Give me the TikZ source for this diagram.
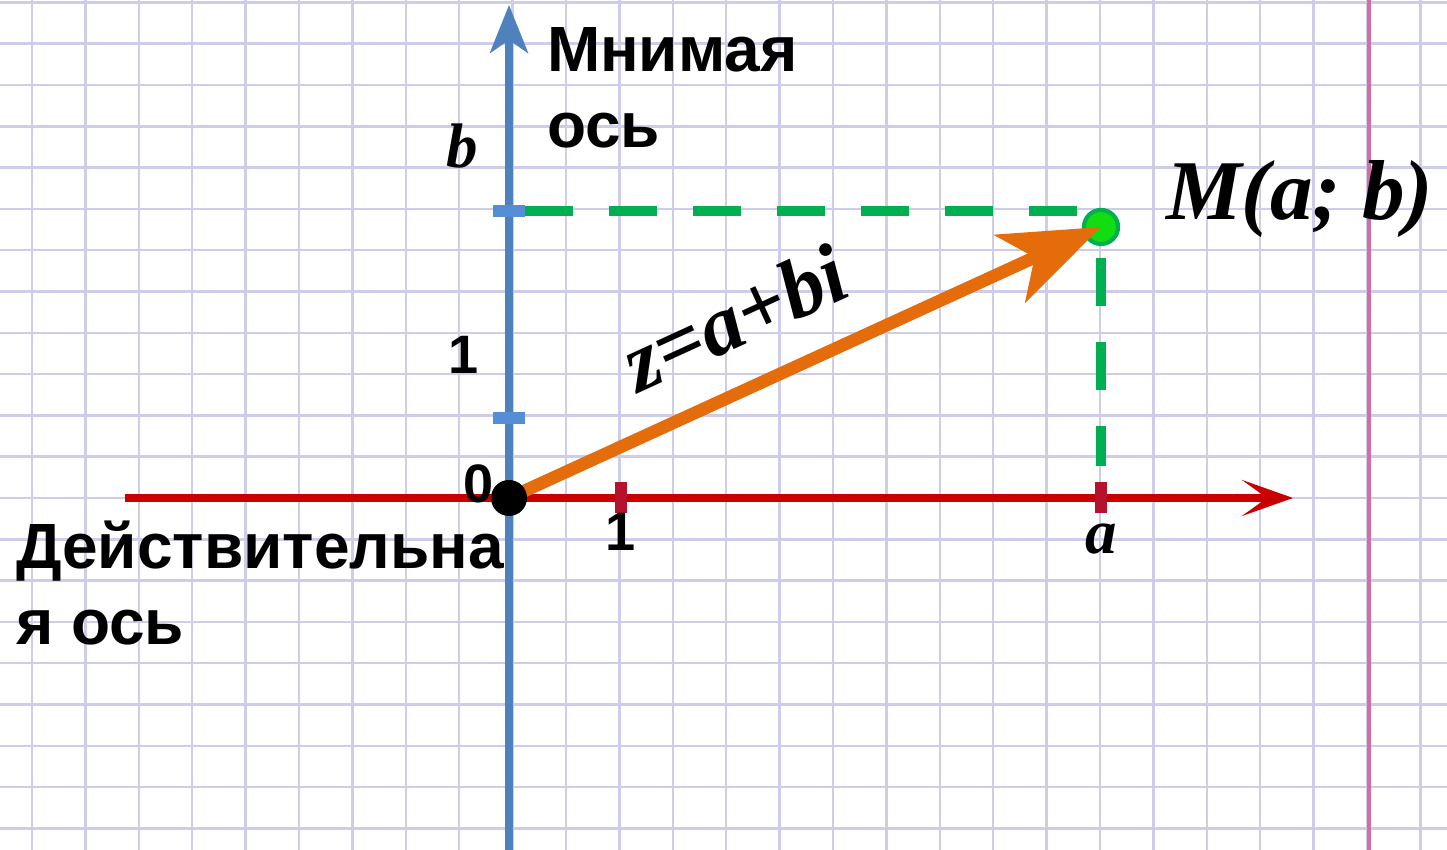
\documentclass[tikz,border=0pt]{standalone}
\usepackage{fontspec}
\setmainfont{Liberation Sans}
\newfontfamily\timesfont{Liberation Serif}
\usepackage{xcolor}
\definecolor{axisred}{HTML}{C80000}
\definecolor{tickred}{HTML}{B5122D}
\definecolor{axisblue}{HTML}{4F81BD}
\definecolor{tickblue}{HTML}{558ED5}
\definecolor{dashgreen}{HTML}{00B050}
\definecolor{pointgreen}{HTML}{11DD11}
\definecolor{vecorange}{HTML}{E46C0A}
\definecolor{gridline}{HTML}{CDCDEA}
\definecolor{marginline}{HTML}{D46CA8}
\usepackage{tikz}
\usetikzlibrary{arrows.meta,positioning}
\tikzset{
  every picture/.style={line width=0.6pt},
  axisname/.style={font=\bfseries\fontsize{18.2}{21.8}\selectfont, align=left, inner sep=0pt},
  num/.style={font=\bfseries\fontsize{15.4}{18}\selectfont, inner sep=0pt},
  letter/.style={font=\timesfont\bfseries\itshape\fontsize{#1}{1.1\dimexpr#1pt\relax}\selectfont, text=black, inner sep=0pt},
  letter/.default=17.9,
  tickmark/.style={line width=3.3pt},
  guide/.style={draw=dashgreen, line width=3.1pt, dash pattern=on 0.48cm off 0.36cm},
}

\begin{document}
\begin{tikzpicture}[
    paper/.style={draw=gridline, line width=0.7pt},
    axis/.style={line width=2.2pt}]
  \useasboundingbox (-5.09,-3.52) rectangle (9.38,4.98);
  \fill[white] (-5.09,-3.52) rectangle (9.38,4.98);
  \foreach \k in {0,...,26}
    \draw[paper] ({-4.77+0.534*\k},-3.6) -- ++(0,8.7);
  \foreach \k in {-8,...,12}
    \draw[paper] (-5.2,{0.413*\k}) -- ++(14.7,0);
  \draw[marginline, line width=1.4pt] (8.60,-3.6) -- (8.60,5.1);

  \coordinate (O) at (0,0);
  \coordinate (xstart) at (-3.84,0);
  \coordinate (xend) at (7.84,0);
  \coordinate (ystart) at (0,-3.6);
  \coordinate (yend) at (0,4.93);
  \coordinate (tick1) at (1.12,0);
  \coordinate (atick) at (5.92,0);
  \coordinate (ytick1) at (0,0.80);
  \coordinate (btick) at (0,2.87);

  \draw[axis, axisred, -{Stealth[length=0.51cm, width=0.36cm, inset=0.25cm]}] (xstart) -- (xend);
  \draw[axis, axisblue, line width=2pt, -{Stealth[length=0.48cm, width=0.38cm, inset=0.13cm]}] (ystart) -- (yend);
  \draw[tickmark, tickred] (tick1) ++(0,-0.155) -- ++(0,0.31);
  \draw[tickmark, tickred] (atick) ++(0,-0.155) -- ++(0,0.31);
  \draw[tickmark, tickblue] (ytick1) ++(-0.16,0) -- ++(0.32,0);
  \draw[tickmark, tickblue] (btick) ++(-0.16,0) -- ++(0.32,0);

  \draw[guide] ([xshift=0.16cm]btick) -- (btick -| atick);
  \draw[guide, dash phase=0.48cm] ([yshift=-0.11cm]btick -| atick) -- ([yshift=0.32cm]atick);

  \node[circle, fill=pointgreen, draw=dashgreen, line width=1.2pt, minimum size=0.34cm, inner sep=0pt] (M) at (5.92,2.71) {};
  \draw[vecorange, line width=3.6pt, -{Stealth[length=1cm, width=0.74cm, inset=0.27cm]}] (O) -- (M.center)
    node[letter=24, pos=0.43, sloped, above, inner sep=0.34cm] (zlabel) {z=a+bi};
  \node[circle, fill=black, minimum size=0.36cm, inner sep=0pt] (Odot) at (O) {};

  \node[axisname, anchor=base west] (imname) at (0.37,3.50) {Мнимая\\ось};
  \node[axisname, anchor=base west] (rename) at (-4.94,-1.47) {Действительна\\я ось};
  \node[num, anchor=base east] (zero) at (-0.14,-0.05) {0};
  \node[num, below=0.14cm of tick1] (one-x) {1};
  \node[num, anchor=base] (one-y) at (-0.45,1.24) {1};
  \node[letter, below=0.25cm of atick] (alabel) {a};
  \node[letter, anchor=base] (blabel) at (-0.47,3.30) {b};
  \node[letter=24.2, anchor=base west] (Mlabel) at (6.56,2.78) {M(a; b)};
\end{tikzpicture}
\end{document}
